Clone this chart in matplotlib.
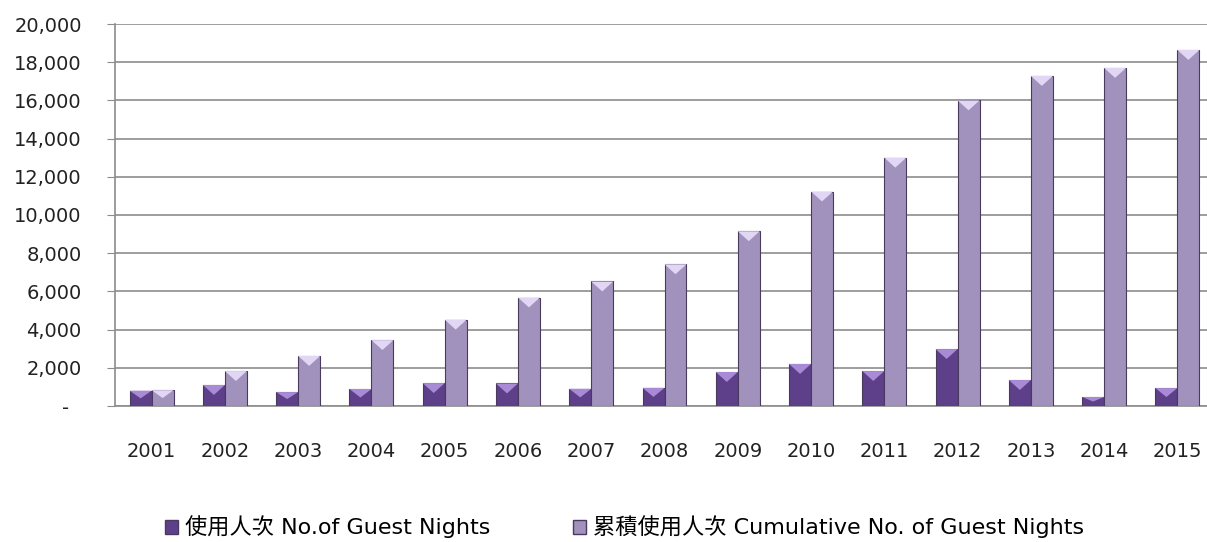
import matplotlib.pyplot as plt
import numpy as np
from matplotlib.patches import Polygon, Patch

plt.rcParams['font.family'] = ['DejaVu Sans', 'Noto Sans CJK TC']

years = [str(y) for y in range(2001, 2016)]
guest_nights = [800, 1100, 730, 890, 1200, 1180, 900, 950, 1780, 2200, 1830, 2980, 1360, 470, 940]
cumulative = [830, 1830, 2620, 3450, 4520, 5680, 6520, 7420, 9150, 11230, 13000, 16000, 17280, 17700, 18640]

label_guest = '使用人次 No.of Guest Nights'
label_cum = '累積使用人次 Cumulative No. of Guest Nights'

dark = '#5e3f8a'
light = '#a192bd'
dark_top = '#a88ad6'
light_top = '#e2d6f5'

fig = plt.figure(figsize=(12.07, 5.42), dpi=100)
ax = fig.add_axes([115 / 1207, 136 / 542, 1099 / 1207, 382 / 542])

x = np.arange(len(years))
w = 0.3

# bars with a lighter bevel triangle on top
def draw_bars(xs, vals, color, topcolor):
    bars = ax.bar(xs, vals, w, color=color, edgecolor='#4a3a5e', linewidth=0.8, zorder=3)
    for xi, v in zip(xs, vals):
        h = min(520, v * 0.5)
        tri = Polygon([[xi - w / 2, v], [xi + w / 2, v], [xi, v - h]],
                      closed=True, facecolor=topcolor, edgecolor='none', zorder=4)
        ax.add_patch(tri)
    return bars

draw_bars(x - w / 2, guest_nights, dark, dark_top)
draw_bars(x + w / 2, cumulative, light, light_top)

ax.set_xlim(-0.5, len(years) - 0.5)
ax.set_ylim(0, 20000)
ticks = np.arange(0, 20001, 2000)
ax.set_yticks(ticks)
ax.set_yticklabels(['-  '] + ['{:,}'.format(t) for t in ticks[1:]])
ax.set_xticks(x)
ax.set_xticklabels(years)
ax.grid(axis='y', color='#8c8c8c', linewidth=1.2, zorder=0)
for s in ['top', 'right']:
    ax.spines[s].set_visible(False)
for s in ['left', 'bottom']:
    ax.spines[s].set_color('#8c8c8c')
    ax.spines[s].set_linewidth(1.2)
ax.tick_params(axis='y', length=6, color='#8c8c8c', labelsize=14, pad=18, labelcolor='#222222')
ax.tick_params(axis='x', length=0, labelsize=14, pad=26, labelcolor='#222222')

handles = [Patch(facecolor=dark, edgecolor='#4a3a5e'), Patch(facecolor=light, edgecolor='#4a3a5e')]
fig.legend(handles, [label_guest, label_cum], loc='center left', bbox_to_anchor=(165 / 1207, 1 - 527 / 542),
           ncol=2, frameon=False, fontsize=16, handlelength=0.6, handleheight=0.6,
           handletextpad=0.3, columnspacing=3.7, borderaxespad=0, borderpad=0)

plt.savefig('out.png', dpi=100)
